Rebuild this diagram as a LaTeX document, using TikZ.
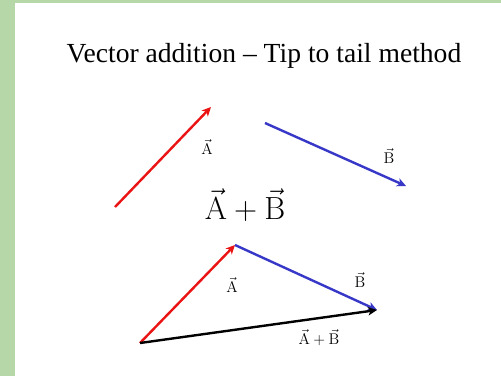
\documentclass[tikz,border=0pt]{standalone}
\usepackage{fix-cm}
\usepackage[no-math]{fontspec}
\setmainfont{Liberation Serif}
\usetikzlibrary{arrows.meta}
\definecolor{bordergreen}{RGB}{182,215,168}
\definecolor{vred}{RGB}{235,20,20}
\definecolor{vblue}{RGB}{55,55,200}
\tikzset{
  vec/.style={line width=2.4pt,-{Stealth[length=9pt,width=8.5pt,inset=2.5pt]}},
  lbl/.style={inner sep=0pt,font=\fontsize{15.5}{17}\selectfont},
}
\begin{document}
\begin{tikzpicture}[x=1pt,y=-1pt]
\useasboundingbox (0,0) rectangle (501,376);
\fill[bordergreen] (0,0) rectangle (501,376);
\fill[white] (15,3) rectangle (501,376);
\node[font=\fontsize{27.6}{30}\selectfont,anchor=base] (title) at (264,62) {Vector addition -- Tip to tail method};
% top vectors
\coordinate (a0) at (115,207);
\coordinate (a1) at (211,107);
\coordinate (b0) at (265,123);
\coordinate (b1) at (406,186);
\draw[vec,vred] (a0) -- (a1);
\draw[vec,vblue] (b0) -- (b1);
\node[lbl] (la) at (207,147) {$\vec{\mathrm{A}}$};
\node[lbl] (lb) at (389,156) {$\vec{\mathrm{B}}$};
\node[inner sep=0pt,font=\fontsize{32}{36}\selectfont] (sum) at (245,205) {$\vec{\mathrm{A}}+\vec{\mathrm{B}}$};
% bottom triangle
\coordinate (c0) at (140,343);
\coordinate (c1) at (235,245);
\coordinate (c2) at (377,310);
\draw[vec,vred] (c0) -- (c1);
\draw[vec,vblue] (c1) -- (c2);
\draw[vec,black] (c0) -- (c2);
\node[lbl] (la2) at (232,285) {$\vec{\mathrm{A}}$};
\node[lbl] (lb2) at (360,280) {$\vec{\mathrm{B}}$};
\node[lbl] (lab) at (319,338) {$\vec{\mathrm{A}}+\vec{\mathrm{B}}$};
\end{tikzpicture}
\end{document}
